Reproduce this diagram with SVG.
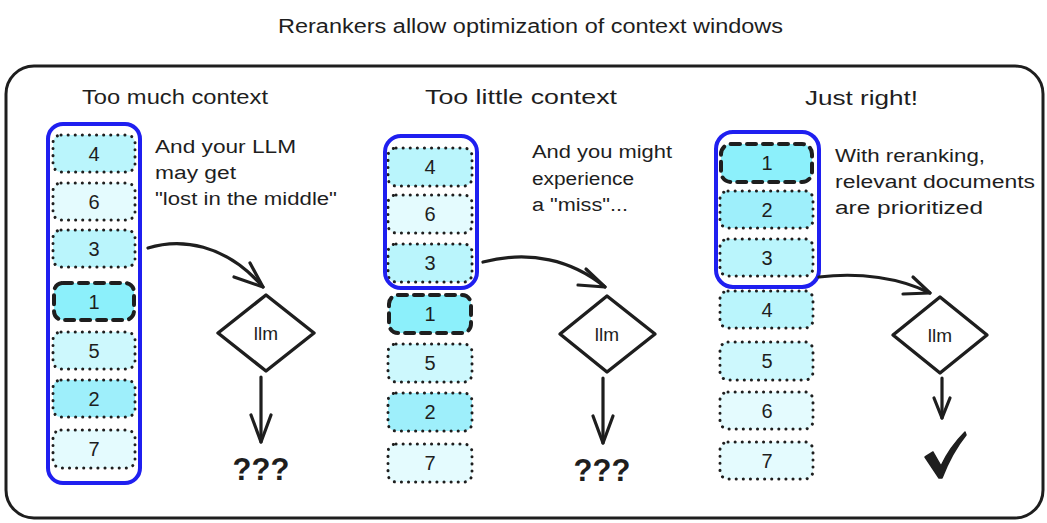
<svg xmlns="http://www.w3.org/2000/svg" width="1047" height="523" viewBox="0 0 1047 523">
<style>
text{font-family:"Liberation Sans","DejaVu Sans",sans-serif;fill:#1e1e1e}
.t{font-size:20px}
.b{font-size:18px}
.n{font-size:20px;text-anchor:middle}
.doc{stroke:#1e1e1e;stroke-width:3;stroke-dasharray:0.1 7;stroke-linecap:round}
.sel{stroke:#1e1e1e;stroke-width:4;stroke-dasharray:9 7;stroke-linecap:round}
.win{fill:none;stroke:#1f1ff0;stroke-width:4}
.ln{fill:none;stroke:#1e1e1e;stroke-width:3.2;stroke-linecap:round;stroke-linejoin:round}
.dia{fill:#fff;stroke:#1e1e1e;stroke-width:3.4;stroke-linejoin:round}
.c1{fill:#8cf0fb}.c2{fill:#9eeffb}.c3{fill:#baf5fc}.c5{fill:#cdf8fd}.c6{fill:#e4fbfe}
.q{font-size:31px;font-weight:bold;text-anchor:middle}
.llm{font-size:19px;text-anchor:middle}
</style>
<rect width="1047" height="523" fill="#fff"/>
<text id="title" class="t" x="278" y="33" textLength="505" lengthAdjust="spacingAndGlyphs">Rerankers allow optimization of context windows</text>
<g id="frame"><rect x="6" y="66" width="1037" height="452" rx="28" fill="none" stroke="#1e1e1e" stroke-width="3"/></g>

<g id="heading-left"><text class="t" x="82" y="104" textLength="186" lengthAdjust="spacingAndGlyphs">Too much context</text></g>
<g id="heading-mid"><text class="t" x="425" y="104" textLength="192" lengthAdjust="spacingAndGlyphs">Too little context</text></g>
<g id="heading-right"><text class="t" x="805" y="105" textLength="113" lengthAdjust="spacingAndGlyphs">Just right!</text></g>

<!-- left panel -->
<g id="left-docs">
<g id="L4"><rect class="doc c3" x="53" y="135" width="82" height="37" rx="8"/><text class="n" x="94" y="161">4</text></g>
<g id="L6"><rect class="doc c6" x="53" y="183" width="82" height="37" rx="8"/><text class="n" x="94" y="209">6</text></g>
<g id="L3"><rect class="doc c3" x="53" y="230" width="82" height="37" rx="8"/><text class="n" x="94" y="256">3</text></g>
<g id="L1"><rect class="sel c1" x="54" y="283" width="80" height="37" rx="9"/><text class="n" x="94" y="309">1</text></g>
<g id="L5"><rect class="doc c5" x="53" y="332" width="82" height="37" rx="8"/><text class="n" x="94" y="358">5</text></g>
<g id="L2"><rect class="doc c2" x="53" y="380" width="82" height="37" rx="8"/><text class="n" x="94" y="406">2</text></g>
<g id="L7"><rect class="doc c6" x="53" y="430" width="82" height="38" rx="8"/><text class="n" x="94" y="456">7</text></g>
</g>
<g id="left-window"><rect class="win" x="48" y="124" width="92" height="359" rx="15"/></g>
<g id="left-note">
<text class="b" x="155" y="153" textLength="141" lengthAdjust="spacingAndGlyphs">And your LLM</text>
<text class="b" x="155" y="179" textLength="81" lengthAdjust="spacingAndGlyphs">may get</text>
<text class="b" x="155" y="205" textLength="182" lengthAdjust="spacingAndGlyphs">"lost in the middle"</text>
</g>
<g id="left-llm"><path class="dia" d="M266,295 L314,333 L266,371 L218,333 Z"/><text class="llm" x="266" y="340">llm</text></g>
<g id="left-result"><text class="q" x="261" y="480">???</text></g>

<!-- middle panel -->
<g id="mid-docs">
<g id="M4"><rect class="doc c3" x="388" y="148" width="84" height="38" rx="8"/><text class="n" x="430" y="174">4</text></g>
<g id="M6"><rect class="doc c6" x="388" y="195" width="84" height="38" rx="8"/><text class="n" x="430" y="221">6</text></g>
<g id="M3"><rect class="doc c3" x="388" y="244" width="84" height="38" rx="8"/><text class="n" x="430" y="270">3</text></g>
<g id="M1"><rect class="sel c1" x="389" y="295" width="82" height="38" rx="9"/><text class="n" x="430" y="321">1</text></g>
<g id="M5"><rect class="doc c5" x="388" y="344" width="84" height="38" rx="8"/><text class="n" x="430" y="370">5</text></g>
<g id="M2"><rect class="doc c2" x="388" y="393" width="84" height="38" rx="8"/><text class="n" x="430" y="419">2</text></g>
<g id="M7"><rect class="doc c6" x="388" y="444" width="84" height="38" rx="8"/><text class="n" x="430" y="470">7</text></g>
</g>
<g id="mid-window"><rect class="win" x="385" y="136" width="92" height="152" rx="16"/></g>
<g id="mid-note">
<text class="b" x="532" y="158" textLength="140" lengthAdjust="spacingAndGlyphs">And you might</text>
<text class="b" x="532" y="185" textLength="102" lengthAdjust="spacingAndGlyphs">experience</text>
<text class="b" x="532" y="211" textLength="96" lengthAdjust="spacingAndGlyphs">a "miss"...</text>
</g>
<g id="mid-llm"><path class="dia" d="M607,296 L655,334 L607,372 L560,334 Z"/><text class="llm" x="607" y="341">llm</text></g>
<g id="mid-result"><text class="q" x="602" y="481">???</text></g>

<!-- right panel -->
<g id="right-docs">
<g id="R1"><rect class="sel c1" x="721" y="144" width="91" height="38" rx="10"/><text class="n" x="767" y="170">1</text></g>
<g id="R2"><rect class="doc c2" x="720" y="191" width="93" height="37" rx="8"/><text class="n" x="767" y="217">2</text></g>
<g id="R3"><rect class="doc c3" x="720" y="239" width="93" height="37" rx="8"/><text class="n" x="767" y="265">3</text></g>
<g id="R4"><rect class="doc c3" x="720" y="291" width="93" height="37" rx="8"/><text class="n" x="767" y="317">4</text></g>
<g id="R5"><rect class="doc c5" x="720" y="342" width="93" height="38" rx="8"/><text class="n" x="767" y="368">5</text></g>
<g id="R6"><rect class="doc c6" x="720" y="392" width="93" height="37" rx="8"/><text class="n" x="767" y="418">6</text></g>
<g id="R7"><rect class="doc c6" x="720" y="442" width="93" height="37" rx="8"/><text class="n" x="767" y="468">7</text></g>
</g>
<g id="right-window"><rect class="win" x="716" y="132" width="103" height="155" rx="17"/></g>
<g id="right-note">
<text class="b" x="835" y="162" textLength="150" lengthAdjust="spacingAndGlyphs">With reranking,</text>
<text class="b" x="835" y="188" textLength="200" lengthAdjust="spacingAndGlyphs">relevant documents</text>
<text class="b" x="835" y="214" textLength="148" lengthAdjust="spacingAndGlyphs">are prioritized</text>
</g>
<g id="right-llm"><path class="dia" d="M940,297 L987,335 L940,373 L893,335 Z"/><text class="llm" x="940" y="342">llm</text></g>
<g id="right-result"><path d="M925,457 L933,452 L941,466 C948,451 956,441 965,432 L966,435 C957,446 949,460 942,478 L939,478 Z" fill="#1e1e1e" stroke="#1e1e1e" stroke-width="1.5" stroke-linejoin="round"/></g>

<g id="connectors">
<path class="ln" d="M148,248 C180,238 225,243 263,287"/>
<path class="ln" d="M250,263 L263,287 L234,277"/>
<path class="ln" d="M261,377 V442"/>
<path class="ln" d="M251,415 L261,442 L271,415"/>
<path class="ln" d="M483,262 C530,250 572,260 605,287"/>
<path class="ln" d="M586,269 L605,287 L578,285"/>
<path class="ln" d="M603,378 V443"/>
<path class="ln" d="M593,416 L603,443 L613,416"/>
<path class="ln" d="M819,277 C860,272 900,278 930,293"/>
<path class="ln" d="M913,277 L930,293 L903,294"/>
<path class="ln" d="M942,378 V418"/>
<path class="ln" d="M934,398 L942,418 L950,398"/>
</g>
</svg>
